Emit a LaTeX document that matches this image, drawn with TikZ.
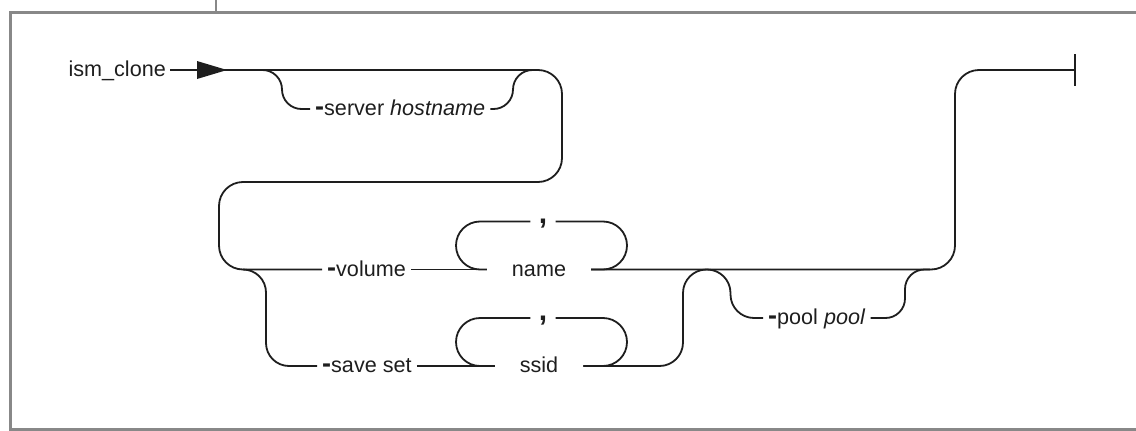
\documentclass[tikz,border=0pt]{standalone}
\usepackage{fontspec}
\setmainfont{Liberation Sans}
\definecolor{railc}{RGB}{30,30,30}
\definecolor{framec}{RGB}{136,136,136}
\newcommand\optdash{{\fontsize{27}{27}\selectfont\bfseries -}}
\begin{document}
\begin{tikzpicture}[x=1pt,y=-1pt,
  rail/.style={line width=1.8pt, draw=railc, rounded corners=24pt},
  srail/.style={rail, rounded corners=19.5pt},
  lbl/.style={font=\fontsize{21.6}{25}\selectfont, text=railc, text height=13pt, text depth=0pt, inner ysep=0pt, inner xsep=5pt, anchor=west},
  item/.style={lbl, anchor=center, inner xsep=25pt},
  sepr/.style={font=\fontsize{30}{30}\selectfont\bfseries, text=railc, text height=4pt, text depth=0pt, inner ysep=0pt, inner xsep=0pt, minimum width=25pt}
]
\useasboundingbox (0,0) rectangle (1136,431);
% frame
\draw[framec, line width=3pt] (1140,12) -- (10,12) -- (10,429.5) -- (1140,429.5);
\draw[framec, line width=1.5pt] (216,0) -- (216,12);

% nodes
\node[lbl, anchor=east, inner xsep=4pt] (ism) at (170,70) {ism\_clone};
\node[lbl] (srv) at (310,109) {\optdash server \textit{hostname}};
\node[lbl] (vol) at (322,269.5) {\optdash volume};
\node[item] (nm) at (539,269.5) {name};
\node[sepr] (c1) at (543,221.5) {,};
\node[lbl] (ss) at (317,366) {\optdash save set};
\node[item] (sd) at (539,366) {ssid};
\node[sepr] (c2) at (543,318) {,};
\node[lbl] (pl) at (763,318) {\optdash pool \textit{pool}};
\coordinate (endp) at (1075,70);
\coordinate (endtop) at (1075,54);
\coordinate (endbot) at (1075,86);

% main line
\draw[rail] (ism.east) -- (562,70) -- (562,182) -- (219,182) -- (219,269.5) -- (vol.west);
\fill[railc] (197,61) -- (227,70) -- (197,79) -- cycle;

% server option
\draw[srail] (240,70) -- (282,70) -- (282,109) -- (srv.west);
\draw[srail] (srv.east) -- (513,109) -- (513,70) -- (538,70);

% volume
\draw[rail] (vol.east) -- (nm.west);
\draw[rail] (nm.east) -- (627,269.5) -- (627,221.5) -- (c1.east);
\draw[rail] (c1.west) -- (456,221.5) -- (456,269.5) -- (nm.west);
\draw[rail] (nm.east) -- (955,269.5) -- (955,70) -- (endp);
\draw[line width=1.8pt, railc] (endtop) -- (endbot);

% save set
\draw[rail, rounded corners=23pt] (243,269.5) -- (266,269.5) -- (266,366) -- (ss.west);
\draw[rail] (ss.east) -- (sd.west);
\draw[rail] (sd.east) -- (627,366) -- (627,318) -- (c2.east);
\draw[rail] (c2.west) -- (456,318) -- (456,366) -- (sd.west);
\draw[rail, rounded corners=23.5pt] (sd.east) -- (683,366) -- (683,269.5) -- (707,269.5);

% pool
\draw[rail, rounded corners=23.5pt] (707,269.5) -- (730.5,269.5) -- (730.5,318) -- (pl.west);
\draw[srail] (pl.east) -- (905,318) -- (905,269.5) -- (930,269.5);
\end{tikzpicture}
\end{document}
